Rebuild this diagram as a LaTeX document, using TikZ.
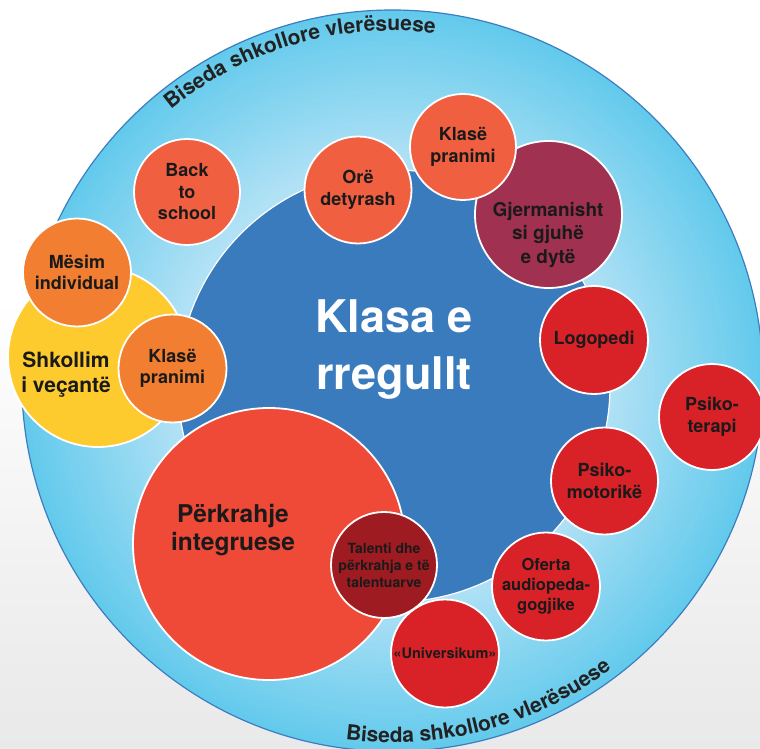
\documentclass[tikz,border=0pt]{standalone}
\usepackage{fontspec}
\setmainfont{TeX Gyre Heros}
\usetikzlibrary{decorations.text}
\definecolor{bggray}{HTML}{DADBDD}
\definecolor{bgmid}{HTML}{ECECED}
\definecolor{bandB}{HTML}{B0E1F5}
\definecolor{bandD}{HTML}{63CAEC}
\definecolor{outline}{HTML}{3C7DC1}
\definecolor{bigblue}{HTML}{3A7BBE}
\definecolor{orred}{HTML}{F15F41}
\definecolor{orng}{HTML}{F27F31}
\definecolor{yell}{HTML}{FECB2E}
\definecolor{maroon}{HTML}{A03151}
\definecolor{redc}{HTML}{D92128}
\definecolor{darkredc}{HTML}{9F1B22}
\definecolor{perkc}{HTML}{EF4937}
\definecolor{labeltext}{HTML}{1A1A1A}
\definecolor{arctext}{HTML}{222222}
\pgfdeclareverticalshading{bgshade}{100bp}{color(0bp)=(bggray); color(30bp)=(bgmid); color(55bp)=(white); color(100bp)=(white)}
\begin{document}
\begin{tikzpicture}[x=1pt,y=1pt,
  bub/.style={circle, draw=white, line width=1.8pt, inner sep=0pt, align=center,
    font=\bfseries\fontsize{18}{21.5}\selectfont, text=labeltext},
  txt/.style={align=center, inner sep=0pt, text=labeltext},
  arcdeco/.style={decorate,
    decoration={text along path, text align=center,
    text color=arctext, text={|\bfseries\fontsize{21}{23}\selectfont|Biseda shkollore vlerësuese}}}
]
\useasboundingbox (0,0) rectangle (760,748);
\fill[shading=bgshade] (0,0) rectangle (760,748);
% outer band (radial gradient built from rings)
\coordinate (oc) at (392.5,367.3);
\foreach \i in {0,...,50} {
  \pgfmathsetmacro\rr{370.7-\i*3}
  \pgfmathsetmacro\pp{\i*2}
  \fill[bandB!\pp!bandD] (oc) circle (\rr);
}
\draw[outline, line width=1.2pt] (oc) circle (370.7);
% curved texts
\path[arcdeco] (oc) ++(131:350) arc[start angle=131, end angle=81.3, radius=350];
\path[arcdeco] (oc) ++(-99.5:362) arc[start angle=-99.5, end angle=-50.7, radius=362];
% central circle
\node[bub, fill=bigblue, minimum size=432pt, line width=1.2pt] (klasa) at (394,362) {};
\node[txt, text=white, font=\bfseries\fontsize{45}{57}\selectfont] (klasatxt) at (394,398) {Klasa e\\rregullt};
% left cluster
\node[bub, fill=yell, minimum size=180pt] (shk) at (98,391) {};
\node[txt, font=\bfseries\fontsize{21}{25}\selectfont] (shktxt) at (66,373) {Shkollim\\i veçantë};
\node[bub, fill=orng, minimum size=108pt] (mesim) at (77,475.5) {Mësim\\individual};
\node[bub, fill=orng, minimum size=108pt] (klaseL) at (172.5,379.5) {Klasë\\pranimi};
% top
\node[bub, fill=orred, minimum size=106pt] (back) at (187,556) {Back\\to\\school};
\node[bub, fill=orred, minimum size=107pt] (ore) at (358,558) {Orë\\detyrash};
\node[bub, fill=maroon, minimum size=147pt] (gjer) at (548.5,533.5) {};
\node[txt, font=\bfseries\fontsize{19}{23.3}\selectfont] (gjertxt) at (548,513) {Gjermanisht\\si gjuhë\\e dytë};
\node[bub, fill=orred, minimum size=106pt] (klaseT) at (463,601) {Klasë\\pranimi};
% right
\node[bub, fill=redc, minimum size=108pt] (logo) at (594,408) {Logopedi};
\node[bub, fill=redc, minimum size=106pt] (psikoT) at (712,331) {Psiko-\\terapi};
\node[bub, fill=redc, minimum size=107pt] (psikoM) at (604.5,267) {Psiko-\\motorikë};
\node[bub, fill=redc, minimum size=108pt, font=\bfseries\fontsize{16.5}{20}\selectfont] (oferta) at (546,161.5) {Oferta\\audiopeda-\\gogjike};
% bottom
\node[bub, fill=perkc, minimum size=272pt] (perk) at (269,204) {};
\node[txt, font=\bfseries\fontsize{24.5}{28.5}\selectfont] (perktxt) at (233,218) {Përkrahje\\integruese};
\node[bub, fill=darkredc, minimum size=106pt, font=\bfseries\fontsize{14}{17}\selectfont] (tal) at (384,183) {Talenti dhe\\përkrahja e të\\talentuarve};
\node[bub, fill=redc, minimum size=108pt, font=\bfseries\fontsize{14.5}{17}\selectfont] (univ) at (445,94.5) {«Universikum»};
\end{tikzpicture}
\end{document}
